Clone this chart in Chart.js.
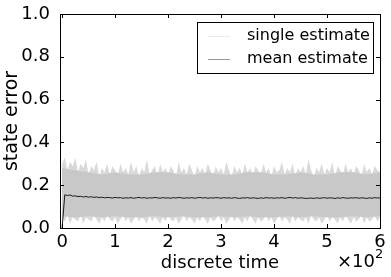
<!DOCTYPE html>
<html>
<head>
<meta charset="utf-8">
<script src="https://cdn.jsdelivr.net/npm/chart.js@4/dist/chart.umd.min.js"></script>
<style>
  html, body { margin: 0; padding: 0; background: #fff; }
  #wrap { width: 391px; height: 277px; }
</style>
</head>
<body>
<div id="wrap"><canvas id="chart" width="391" height="277"></canvas></div>
<script>
// x grid: every 5 time steps for the fine series, every 25 for the inner band
const fineStep = 5;
const coarseStep = 25;

const xTicks = [0, 100, 200, 300, 400, 500, 600];
const yTicks = [0, 0.2, 0.4, 0.6, 0.8, 1.0];

// spikes of the single estimates (outer envelope)
const singleUpper = [
  0.30,0.33,0.27,0.31,0.29,0.33,0.26,0.30,0.28,0.32,
  0.25,0.29,0.27,0.31,0.24,0.28,0.26,0.30,0.25,0.29,
  0.27,0.24,0.30,0.26,0.28,0.25,0.31,0.26,0.29,0.24,
  0.28,0.26,0.32,0.25,0.27,0.29,0.24,0.30,0.26,0.28,
  0.25,0.29,0.27,0.24,0.31,0.26,0.28,0.25,0.30,0.27,
  0.24,0.29,0.26,0.28,0.25,0.30,0.27,0.24,0.29,0.26,
  0.28,0.25,0.31,0.27,0.24,0.29,0.26,0.28,0.25,0.30,
  0.26,0.28,0.24,0.29,0.27,0.25,0.30,0.26,0.28,0.24,
  0.29,0.26,0.27,0.31,0.25,0.28,0.26,0.30,0.24,0.28,
  0.26,0.29,0.25,0.32,0.27,0.24,0.28,0.26,0.30,0.25,
  0.28,0.26,0.31,0.24,0.29,0.27,0.25,0.30,0.26,0.28,
  0.25,0.29,0.27,0.24,0.30,0.26,0.28,0.25,0.29,0.27,
  0.26
];
const singleLower = [
  0.05,0.03,0.06,0.02,0.05,0.04,0.03,0.06,0.02,0.05,
  0.04,0.03,0.06,0.04,0.02,0.05,0.03,0.06,0.04,0.03,
  0.05,0.02,0.04,0.06,0.03,0.05,0.02,0.04,0.06,0.03,
  0.05,0.04,0.02,0.06,0.03,0.05,0.04,0.02,0.05,0.03,
  0.06,0.04,0.03,0.05,0.02,0.04,0.06,0.03,0.05,0.04,
  0.02,0.05,0.03,0.06,0.04,0.02,0.05,0.03,0.04,0.06,
  0.03,0.05,0.02,0.04,0.06,0.03,0.05,0.04,0.02,0.05,
  0.03,0.06,0.04,0.02,0.05,0.03,0.04,0.06,0.03,0.05,
  0.02,0.04,0.06,0.03,0.05,0.04,0.02,0.06,0.03,0.05,
  0.04,0.03,0.05,0.02,0.06,0.04,0.03,0.05,0.02,0.04,
  0.06,0.03,0.05,0.04,0.02,0.05,0.03,0.06,0.04,0.02,
  0.05,0.03,0.04,0.06,0.02,0.05,0.03,0.04,0.06,0.03,
  0.05
];
// dense core of the single estimates
const coreUpper = [0.28,0.27,0.26,0.25,0.26,0.25,0.25,0.26,0.26,0.25,0.25,0.26,0.25,
                   0.25,0.26,0.26,0.25,0.25,0.26,0.25,0.25,0.26,0.26,0.25,0.26];
const coreLower = [0.055,0.05,0.055,0.05,0.055,0.05,0.05,0.055,0.05,0.055,0.05,0.05,0.055,
                   0.05,0.055,0.05,0.05,0.055,0.05,0.055,0.05,0.05,0.055,0.05,0.055];
// mean estimate
const meanEstimate = [
  0.000,0.155,0.152,0.154,0.149,0.150,0.147,0.148,0.145,0.147,
  0.144,0.146,0.143,0.145,0.142,0.144,0.141,0.143,0.142,0.140,
  0.143,0.141,0.142,0.139,0.141,0.140,0.142,0.139,0.141,0.143,
  0.140,0.142,0.139,0.141,0.140,0.143,0.141,0.139,0.142,0.140,
  0.141,0.139,0.142,0.140,0.143,0.141,0.139,0.141,0.140,0.142,
  0.139,0.141,0.143,0.140,0.142,0.139,0.141,0.140,0.142,0.141,
  0.139,0.142,0.140,0.141,0.139,0.142,0.140,0.138,0.141,0.140,
  0.142,0.139,0.141,0.140,0.138,0.141,0.139,0.142,0.140,0.141,
  0.139,0.141,0.140,0.142,0.139,0.141,0.143,0.140,0.142,0.139,
  0.141,0.140,0.138,0.139,0.140,0.138,0.141,0.139,0.140,0.142,
  0.139,0.141,0.140,0.138,0.141,0.139,0.142,0.140,0.139,0.141,
  0.140,0.142,0.139,0.141,0.140,0.138,0.141,0.139,0.142,0.140,
  0.141
];

const legendLabels = ["single estimate", "mean estimate"];

function pts(values, step) {
  return values.map((v, i) => ({ x: i * step, y: v }));
}

const FONT = "'DejaVu Sans', sans-serif";

// frame, inward ticks, legend box and the x10^2 offset label
const decor = {
  id: "decor",
  afterDraw(chart) {
    const ctx = chart.ctx;
    const a = chart.chartArea;
    const xs = chart.scales.x, ys = chart.scales.y;
    ctx.save();
    ctx.strokeStyle = "#000";
    ctx.lineWidth = 1;
    ctx.strokeRect(Math.round(a.left) + 0.5, Math.round(a.top) + 0.5,
                   Math.round(a.right - a.left), Math.round(a.bottom - a.top));
    const tl = 4;
    ctx.beginPath();
    xTicks.forEach(v => {
      const px = Math.round(xs.getPixelForValue(v)) + 0.5;
      ctx.moveTo(px, a.bottom); ctx.lineTo(px, a.bottom - tl);
      ctx.moveTo(px, a.top); ctx.lineTo(px, a.top + tl);
    });
    yTicks.forEach(v => {
      const py = Math.round(ys.getPixelForValue(v)) + 0.5;
      ctx.moveTo(a.left, py); ctx.lineTo(a.left + tl, py);
      ctx.moveTo(a.right, py); ctx.lineTo(a.right - tl, py);
    });
    ctx.stroke();

    // legend
    const lx = 197, ly = 22, lw = 176, lh = 51;
    ctx.fillStyle = "#fff";
    ctx.fillRect(lx, ly, lw, lh);
    ctx.strokeRect(lx + 0.5, ly + 0.5, lw, lh);
    const colors = ["#ebebeb", "#999999"];
    ctx.font = "16px " + FONT;
    ctx.textBaseline = "middle";
    legendLabels.forEach((t, i) => {
      const cy = ly + 14 + i * 23;
      ctx.strokeStyle = colors[i];
      ctx.beginPath();
      ctx.moveTo(208, cy + 0.5); ctx.lineTo(230, cy + 0.5);
      ctx.stroke();
      ctx.fillStyle = "#000";
      ctx.fillText(t, 247, cy);
    });

    // offset label
    ctx.textBaseline = "alphabetic";
    ctx.font = "18px " + FONT;
    ctx.fillText("\u00d710", 337, 267);
    const w = ctx.measureText("\u00d710").width;
    ctx.font = "13px " + FONT;
    ctx.fillText("2", 337 + w, 258);
    ctx.restore();
  }
};

new Chart(document.getElementById("chart"), {
  type: "line",
  data: {
    datasets: [
      {
        label: "mean estimate",
        data: pts(meanEstimate, fineStep),
        borderColor: "#1a1a1a",
        borderWidth: 1,
        pointRadius: 0,
        fill: false,
        order: 0
      },
      {
        label: "core upper",
        data: pts(coreUpper, coarseStep),
        borderColor: "rgba(0,0,0,0)",
        borderWidth: 0,
        pointRadius: 0,
        backgroundColor: "#c8c8c8",
        fill: "+1",
        order: 1
      },
      {
        label: "core lower",
        data: pts(coreLower, coarseStep),
        borderColor: "rgba(0,0,0,0)",
        borderWidth: 0,
        pointRadius: 0,
        fill: false,
        order: 1
      },
      {
        label: "single upper",
        data: pts(singleUpper, fineStep),
        borderColor: "rgba(0,0,0,0)",
        borderWidth: 0,
        pointRadius: 0,
        backgroundColor: "#d9d9d9",
        fill: "+1",
        order: 2
      },
      {
        label: "single lower",
        data: pts(singleLower, fineStep),
        borderColor: "rgba(0,0,0,0)",
        borderWidth: 0,
        pointRadius: 0,
        fill: false,
        order: 2
      }
    ]
  },
  options: {
    responsive: false,
    animation: false,
    layout: { padding: { top: 14, right: 11, left: 0, bottom: 0 } },
    plugins: { legend: { display: false }, tooltip: { enabled: false } },
    scales: {
      x: {
        type: "linear",
        min: -4,
        max: 600,
        grid: { display: false },
        border: { display: false },
        afterBuildTicks: s => { s.ticks = xTicks.map(v => ({ value: v })); },
        afterFit: s => { s.height = 49; },
        ticks: {
          color: "#000",
          font: { family: FONT, size: 18 },
          padding: -4,
          maxRotation: 0,
          callback: v => String(v / 100)
        },
        title: {
          display: true,
          text: "discrete time",
          color: "#000",
          font: { family: FONT, size: 18 },
          padding: { top: 0, bottom: 3 }
        }
      },
      y: {
        min: 0,
        max: 1,
        grid: { display: false },
        border: { display: false },
        afterBuildTicks: s => { s.ticks = yTicks.map(v => ({ value: v })); },
        afterFit: s => { s.width = 60; },
        ticks: {
          color: "#000",
          font: { family: FONT, size: 18 },
          padding: 2,
          callback: v => v.toFixed(1)
        },
        title: {
          display: true,
          text: "state error",
          color: "#000",
          font: { family: FONT, size: 19 },
          padding: { top: 1, bottom: 0 }
        }
      }
    }
  },
  plugins: [decor]
});
</script>
</body>
</html>
